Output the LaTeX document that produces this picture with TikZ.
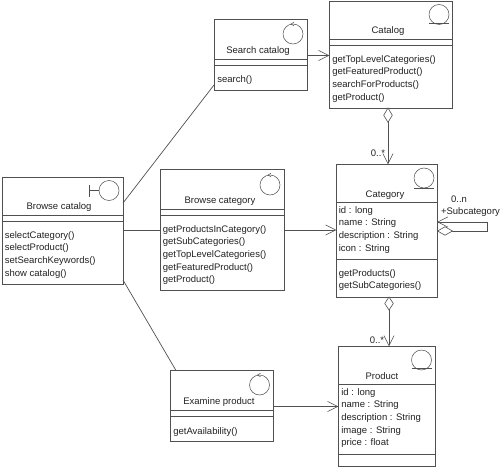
\documentclass[tikz,border=0pt]{standalone}
\usepackage{fontspec}
\setmainfont{Liberation Sans}
\usetikzlibrary{arrows.meta}
\definecolor{umlline}{HTML}{505050}
\definecolor{umltext}{HTML}{222222}
\tikzset{
  x=1pt,y=-1pt,
  classbox/.style={draw=umlline,line width=0.75pt,anchor=north west,inner sep=0,outer sep=0,rectangle},
  classname/.style={text=umltext,inner sep=0,anchor=center,font=\fontsize{9.5}{12.6}\selectfont},
  members/.style={text=umltext,inner sep=0,anchor=north west,align=left,font=\fontsize{9.5}{12.6}\selectfont},
  smalltext/.style={text=umltext,inner sep=0,anchor=center,font=\fontsize{9.5}{11}\selectfont},
  icon/.style={draw=umlline,line width=0.5pt,circle,minimum size=20pt,inner sep=0,outer sep=0},
  openarrow/.style={-{Straight Barb[length=10pt,width=10pt,line width=0.6pt,round=false]}},
  aggdiamond/.style={draw=umlline,line width=0.6pt,fill=white},
}
% name, left, top, right, bottom
\newcommand{\classrect}[5]{%
  \pgfmathsetmacro{\boxw}{#4-#2}\pgfmathsetmacro{\boxh}{#5-#3}%
  \node[classbox,minimum width=\boxw pt,minimum height=\boxh pt] (#1) at (#2,#3) {};}
\newcommand{\compline}[2]{\draw (#1.west |- 0,#2) -- (#1.east |- 0,#2);}
\newcommand{\entityicon}[4]{% name, cx, cy, underline y
  \node[icon] (#1) at (#2,#3) {};
  \draw[line width=0.5pt] ([xshift=-10pt]#1.center |- 0,#4) -- ([xshift=10pt]#1.center |- 0,#4);}
\newcommand{\controlicon}[3]{% name, cx, cy
  \node[icon] (#1) at (#2,#3) {};
  \draw[line width=0.5pt] ([xshift=1pt,yshift=-1.8pt]#1.north) -- ([xshift=-2pt]#1.north) -- ([xshift=1pt,yshift=1.8pt]#1.north);}
\begin{document}
\begin{tikzpicture}[color=umlline,line width=0.7pt]
\useasboundingbox (0,0) rectangle (500,468);
\fill[white] (0,0) rectangle (500,468);

% classes
\classrect{browse}{2}{177}{123}{284}
\classrect{search}{214}{19}{307}{90}
\classrect{catalog}{329}{1}{452.5}{108}
\classrect{bcat}{160}{169}{284}{290}
\classrect{category}{336}{164}{437.5}{297}
\classrect{examine}{170.5}{370.5}{273}{441}
\classrect{product}{338}{346}{435}{466}

% compartments
\compline{browse}{215}\compline{browse}{221}
\compline{search}{59}\compline{search}{65}
\compline{catalog}{39}\compline{catalog}{45}
\compline{bcat}{209}\compline{bcat}{215}
\compline{category}{202}\compline{category}{259}
\compline{examine}{410}\compline{examine}{416}
\compline{product}{384}\compline{product}{454}

% names
\node[classname] (browsen) at (59,207.5) {Browse catalog};
\node[classname] (searchn) at (258,51.5) {Search catalog};
\node[classname] (catalogn) at (388,31.5) {Catalog};
\node[classname] (bcatn) at (220,201.5) {Browse category};
\node[classname] (categoryn) at (385,195.5) {Category};
\node[classname] (examinen) at (219,402.5) {Examine product};
\node[classname] (productn) at (382,376.5) {Product};

% members
\node[members] (browseops) at (4.5,231) {selectCategory()\\selectProduct()\\setSearchKeywords()\\show catalog()};
\node[members] (searchops) at (217,75) {search()};
\node[members] (catalogops) at (332,55) {getTopLevelCategories()\\getFeaturedProduct()\\searchForProducts()\\getProduct()};
\node[members] (bcatops) at (162.5,225) {getProductsInCategory()\\getSubCategories()\\getTopLevelCategories()\\getFeaturedProduct()\\getProduct()};
\node[members] (categoryattrs) at (338.5,206) {id : long\\name : String\\description : String\\icon : String};
\node[members] (categoryops) at (338.5,269) {getProducts()\\getSubCategories()};
\node[members] (examineops) at (173,427) {getAvailability()};
\node[members] (productattrs) at (341,388) {id : long\\name : String\\description : String\\image : String\\price : float};

% icons
\entityicon{catalogi}{439}{14.5}{23.5}
\entityicon{categoryi}{424}{178}{188}
\entityicon{producti}{421.5}{360}{368.5}
\controlicon{searchi}{293}{34}
\controlicon{bcati}{270}{185}
\controlicon{examinei}{259.5}{385}
\node[icon] (browsei) at (109,190.5) {};
\coordinate (browsestem) at (89.5,190.5);
\draw[line width=0.5pt] (browsei.west) -- (browsestem);
\draw[line width=0.5pt] ([yshift=-6pt]browsestem) -- ([yshift=6pt]browsestem);

% plain associations
\draw (browse.east |- 0,203) -- (search.west |- 0,85);
\draw (browse.east |- 0,230) -- (bcat.west |- 0,230);
\draw (browse.east |- 0,280) -- ([xshift=5.5pt]examine.north west);

% navigable associations
\draw[openarrow] (search.east |- 0,55.5) -- (catalog.west |- 0,55.5);
\draw[openarrow] (bcat.east |- 0,230) -- (category.west |- 0,230);
\draw[openarrow] (examine.east |- 0,406.5) -- (product.west |- 0,406.5);

% aggregations
\coordinate (catalogd) at (388,108);
\draw[openarrow] (catalogd) -- (catalogd |- category.north);
\draw[aggdiamond] (catalogd) -- ++(4.3,7.2) -- ++(-4.3,7.2) -- ++(-4.3,-7.2) -- cycle;
\coordinate (categoryd) at (389,297);
\draw[openarrow] (categoryd) -- (categoryd |- product.north);
\draw[aggdiamond] (categoryd) -- ++(4.3,6.5) -- ++(-4.3,6.5) -- ++(-4.3,-6.5) -- cycle;

% self association
\coordinate (selfd) at (category.east |- 0,231);
\coordinate (selfa) at (category.east |- 0,222);
\draw[openarrow] (selfd) -- (487,231) -- (487,222) -- (selfa);
\draw[aggdiamond] (selfd) -- ++(7.5,-4.2) -- ++(7.5,4.2) -- ++(-7.5,4.2) -- cycle;

% labels
\node[smalltext] (mult1) at (378,153.5) {0..*};
\node[smalltext] (mult2) at (377,340) {0..*};
\node[smalltext] (mult3) at (459,199.5) {0..n};
\node[smalltext] (role) at (470.5,212) {+Subcategory};
\end{tikzpicture}
\end{document}
